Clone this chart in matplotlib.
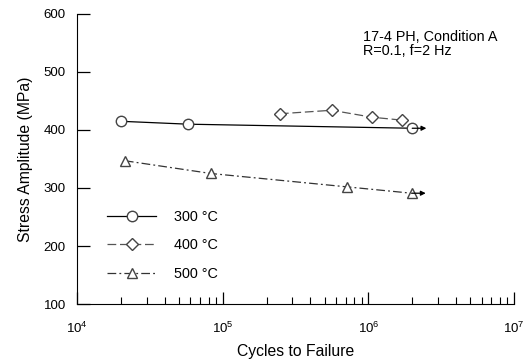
import matplotlib
matplotlib.use('Agg')
import matplotlib.pyplot as plt

plt.rcParams['font.family'] = ['Liberation Sans', 'DejaVu Sans']
plt.rcParams['mathtext.fontset'] = 'custom'
plt.rcParams['mathtext.rm'] = 'Liberation Sans'
plt.rcParams['mathtext.it'] = 'Liberation Sans'

# data
n_300 = [2.0e4, 5.8e4, 2.0e6]
s_300 = [415, 410, 403]
n_400 = [2.47e5, 5.6e5, 1.06e6, 1.7e6]
s_400 = [428, 434, 422, 417]
n_500 = [2.13e4, 8.3e4, 7.1e5, 1.98e6]
s_500 = [347, 325, 302, 291]
runout_300 = (2.0e6, 403)
runout_500 = (1.98e6, 291)

fig = plt.figure(figsize=(5.24, 3.63), dpi=100)
ax = fig.add_axes([0.147, 0.1625, 0.834, 0.799])

mk = dict(markersize=7.5, markerfacecolor='white', markeredgecolor='#444', markeredgewidth=1.0)
ax.plot(n_300, s_300, '-', color='black', lw=0.9, marker='o', label='300 °C', **mk)
ax.plot(n_400, s_400, color='#555', lw=0.9, ls=(0, (7, 3)), marker='D',
        label='400 °C', **dict(mk, markersize=6.5))
ax.plot(n_500, s_500, color='#333', lw=0.9, ls=(0, (7, 2.5, 1.5, 2.5)), marker='^',
        label='500 °C', **mk)

# run-out arrows
for xr, yr in [runout_300, runout_500]:
    ax.annotate('', xy=(xr * 1.25, yr), xytext=(xr, yr),
                arrowprops=dict(arrowstyle='-|>', color='black', lw=0.9,
                                mutation_scale=7, shrinkA=0, shrinkB=0))

ax.set_xscale('log')
ax.set_xlim(1e4, 1e7)
ax.set_ylim(100, 600)
ax.set_yticks([100, 200, 300, 400, 500, 600])
ax.spines['top'].set_visible(False)
ax.spines['right'].set_visible(False)
ax.tick_params(axis='both', which='major', direction='in', length=9, width=0.9, labelsize=9.5)
ax.tick_params(axis='x', which='minor', direction='in', length=5, width=0.8)
ax.tick_params(axis='x', which='major', pad=12)
ax.tick_params(axis='y', which='major', pad=8)

ax.set_xlabel('Cycles to Failure', fontsize=11.3, labelpad=6)
ax.set_ylabel('Stress Amplitude (MPa)', fontsize=11.3, labelpad=8)

ax.text(0.654, 0.945, '17-4 PH, Condition A\nR=0.1, f=2 Hz', transform=ax.transAxes,
        fontsize=10.4, va='top', ha='left', linespacing=1.0)

ax.legend(loc='upper left', bbox_to_anchor=(0.039, 0.37), frameon=False, fontsize=10.4,
          handlelength=3.4, handletextpad=1.2, labelspacing=1.0)

fig.savefig('out.png', dpi=100)
